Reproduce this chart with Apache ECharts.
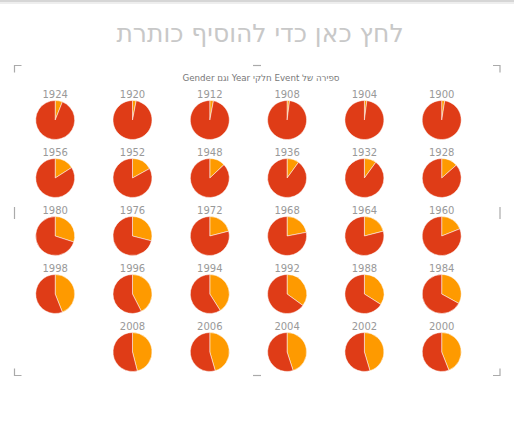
<!DOCTYPE html>
<html>
<head>
<meta charset="utf-8">
<script src="https://cdn.jsdelivr.net/npm/echarts@6/dist/echarts.min.js"></script>
<style>
html,body{margin:0;padding:0;background:#fff;}
#c{width:514px;height:436px;}
</style>
</head>
<body>
<div id="c"></div>
<script>
// Data, in the order shown (right to left, top to bottom)
const years = ['1900','1904','1908','1912','1920','1924',
               '1928','1932','1936','1948','1952','1956',
               '1960','1964','1968','1972','1976','1980',
               '1984','1988','1992','1994','1996','1998',
               '2000','2002','2004','2006','2008'];
const categories = ['F', 'M'];
const female = [2.5, 2, 2, 3, 3, 6,
                13.5, 10, 10, 13, 17, 16,
                19, 21, 22, 21, 29, 30,
                33, 34, 35, 41, 42.5, 44,
                44, 45.4, 45, 45.5, 46];
const male = [97.5, 98, 98, 97, 97, 94,
              86.5, 90, 90, 87, 83, 84,
              81, 79, 78, 79, 71, 70,
              67, 66, 65, 59, 57.5, 56,
              56, 54.6, 55, 54.5, 54];
const chartTitle = 'לחץ כאן כדי להוסיף כותרת';
const subTitle = '\u2067ספירה של Event חלקי Year וגם Gender\u2069';

const colors = ['#FE9A00', '#DF3C17'];
const COLS = 6, X0 = 441.7, DX = 77.3, Y0 = 120, DY = 58, R = 19.5;

const titles = [
  {text: chartTitle, left: 255, top: 16, textAlign: 'center',
   textStyle: {fontFamily: 'DejaVu Sans', fontSize: 25, fontWeight: 'normal', color: '#c8c8c8'}},
  {text: subTitle, left: 256, top: 68, textAlign: 'center',
   textStyle: {fontFamily: 'DejaVu Sans', fontSize: 8.7, fontWeight: 'normal', color: '#777'}}
];
const series = [];
years.forEach((y, i) => {
  const col = i % COLS, row = Math.floor(i / COLS);
  const cx = X0 - col * DX, cy = Y0 + row * DY;
  titles.push({text: y, left: cx, top: cy - R - 11, textAlign: 'center', padding: 0,
    textStyle: {fontFamily: 'DejaVu Sans', fontSize: 10, fontWeight: 'normal', color: '#999'}});
  series.push({
    type: 'pie', center: [cx, cy], radius: R, startAngle: 90, clockwise: true,
    label: {show: false}, labelLine: {show: false}, silent: true, animation: false,
    itemStyle: {borderColor: '#fff', borderWidth: 0.5},
    data: [{name: categories[0], value: female[i]}, {name: categories[1], value: male[i]}]
  });
});

function bracket(pts){
  return {type: 'polyline', shape: {points: pts}, style: {stroke: '#aaa', lineWidth: 1.2, fill: null}};
}
const graphic = [
  {type: 'rect', shape: {x: 0, y: 0, width: 514, height: 2}, style: {fill: '#d6d6d6'}},
  {type: 'rect', shape: {x: 0, y: 2, width: 514, height: 2}, style: {fill: '#eeeeee'}},
  bracket([[21.5, 65.5],[14.5, 65.5],[14.5, 72.5]]),
  bracket([[493, 65.5],[500, 65.5],[500, 72.5]]),
  bracket([[14.5, 368.5],[14.5, 375.5],[21.5, 375.5]]),
  bracket([[500, 368.5],[500, 375.5],[493, 375.5]]),
  bracket([[253, 65.5],[261, 65.5]]),
  bracket([[253, 375.5],[261, 375.5]]),
  bracket([[14.5, 207],[14.5, 219]]),
  bracket([[500, 207],[500, 219]])
];

const chart = echarts.init(document.getElementById('c'), null, {renderer: 'svg'});
chart.setOption({
  animation: false,
  color: colors,
  backgroundColor: '#fff',
  title: titles,
  graphic: graphic,
  series: series
});
</script>
</body>
</html>
